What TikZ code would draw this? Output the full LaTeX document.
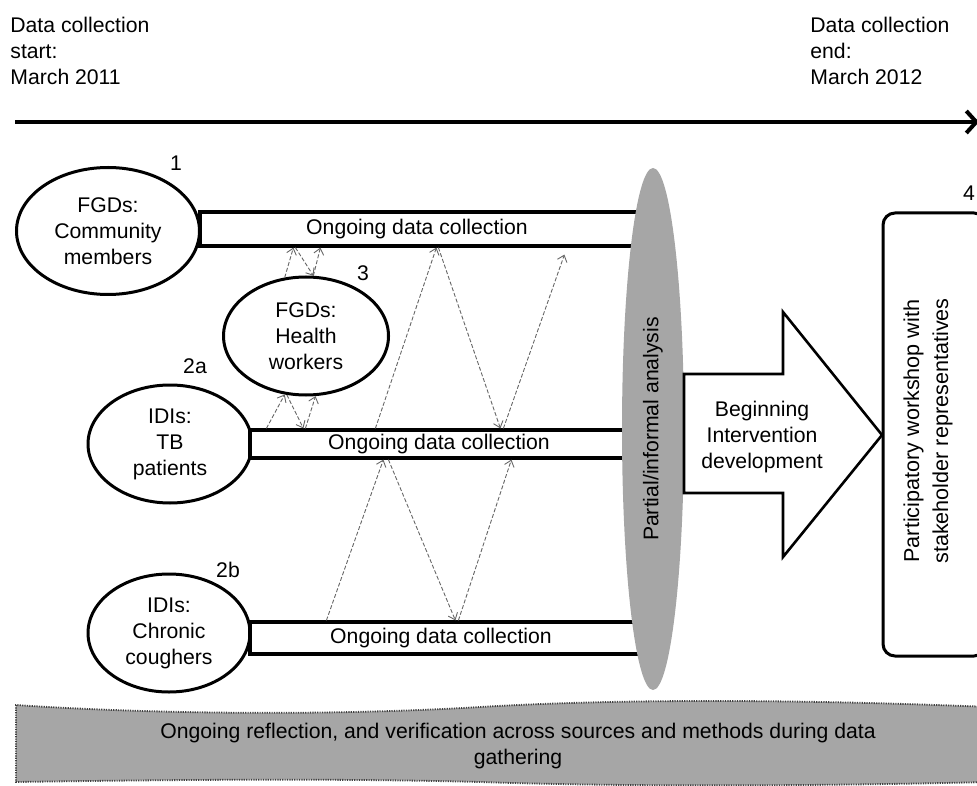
\documentclass[tikz,border=0pt]{standalone}
\usepackage{fontspec}
\setmainfont{Liberation Sans}
\usetikzlibrary{arrows.meta,calc,positioning,shapes.geometric}
\definecolor{grisana}{rgb}{0.65,0.65,0.65}
\definecolor{grisflecha}{rgb}{0.40,0.40,0.40}
\tikzset{
  grupo/.style={
    ellipse,
    draw=black,
    line width=1.5pt,
    fill=white,
    align=center,
    inner sep=0pt,
    font=\fontsize{10.6}{13}\selectfont
  },
  barra/.style={
    rectangle,
    draw=black,
    line width=1.6pt,
    fill=white,
    inner sep=0pt
  },
  rotulo/.style={
    inner sep=0pt,
    font=\fontsize{10.6}{13}\selectfont
  },
  enlace/.style={
    -{Straight Barb[length=3pt,width=5pt]},
    dash pattern=on 2pt off 1pt,
    line width=0.45pt,
    grisflecha
  }
}

\begin{document}
\begin{tikzpicture}[x=0.5pt,y=-0.5pt]
\useasboundingbox (0,0) rectangle (977,785);
% time line
\node[rotulo, anchor=north west, align=left] (inicio) at (10,17) {Data collection\\start:\\March 2011};
\node[rotulo, anchor=north west, align=left] (fin) at (810,17) {Data collection\\end:\\March 2012};
\coordinate (t0) at (15,122);
\coordinate (t1) at (979,122);
\draw[line width=2pt, -{Straight Barb[length=5pt,width=11pt]}] (t0) -- (t1);
% groups
\node[grupo, minimum width=91.5pt, minimum height=63.5pt] (e1) at (108,231) {FGDs:\\Community\\members};
\node[grupo, minimum width=82.5pt, minimum height=59pt] (e3) at (306,336) {FGDs:\\Health\\workers};
\node[grupo, minimum width=82pt, minimum height=59pt] (e2a) at (170,444) {IDIs:\\TB\\patients};
\node[grupo, minimum width=81pt, minimum height=59pt] (e2b) at (169,633) {IDIs:\\Chronic\\coughers};
\node[rotulo] (n1) at (176,163) {1};
\node[rotulo] (n3) at (363,273) {3};
\node[rotulo] (n2a) at (195,366) {2a};
\node[rotulo] (n2b) at (228,570) {2b};
\node[rotulo] (n4) at (969,193) {4};
% bars
\node[barra, minimum width=225pt, minimum height=17pt] (bar1) at (425,229) {};
\node[barra, minimum width=200pt, minimum height=14pt] (bar2) at (450,444) {};
\node[barra, minimum width=200pt, minimum height=16pt] (bar3) at (450,638) {};
\node[rotulo] (txt1) at (417,229) {Ongoing data collection};
\node[rotulo] (txt2) at (439,444) {Ongoing data collection};
\node[rotulo] (txt3) at (441,638) {Ongoing data collection};
% analysis
\node[ellipse, fill=grisana, rotate=90, minimum width=261pt, minimum height=31pt, inner sep=0pt,
  font=\fontsize{10.6}{13}\selectfont] (analisis) at (653,429) {Partial/informal analysis};
\draw[line width=1.3pt, fill=white] (684,374) -- (783,374) -- (783,312) -- (882,435)
  -- (783,557) -- (783,493) -- (684,493) -- cycle;
\node[rotulo, align=center] (intervencion) at (762,437) {Beginning\\Intervention\\development};
\node[draw, line width=1.5pt, rounded corners=6pt, minimum width=51.5pt, minimum height=221.5pt,
  inner sep=0pt] (taller) at (934.5,434.5) {};
\node[rotulo, rotate=90, align=center, font=\fontsize{10.8}{14.5}\selectfont] (tallertxt) at (928,431)
  {Participatory workshop with\\stakeholder representatives};
% links
\draw[enlace] (e3.110) -- ($(bar1.south west)+(95,0)$);
\draw[enlace] ($(bar1.south west)+(97,0)$) -- (e3.83);
\draw[enlace] (e3.83) -- ($(bar1.south west)+(122,0)$);
\draw[enlace] ($(bar2.north west)+(18,0)$) -- (e3.250);
\draw[enlace] (e3.252) -- ($(bar2.north west)+(55,0)$);
\draw[enlace] ($(bar2.north west)+(57,0)$) -- (e3.279);
\draw[enlace] ($(bar2.north west)+(127,0)$) -- ($(bar1.south west)+(238,0)$);
\draw[enlace] ($(bar1.south west)+(240,0)$) -- ($(bar2.north west)+(252,0)$);
\draw[enlace] ($(bar2.north west)+(255,0)$) -- ($(bar1.south west)+(366,7)$);
\draw[enlace] ($(bar3.north west)+(78,0)$) -- ($(bar2.south west)+(135,0)$);
\draw[enlace] ($(bar2.south west)+(140,0)$) -- ($(bar3.north west)+(207,0)$);
\draw[enlace] ($(bar3.north west)+(210,0)$) -- ($(bar2.south west)+(263,0)$);
% reflection band
\fill[grisana] (16,705) .. controls (150,714) and (330,716) .. (480,707)
  .. controls (630,698) and (820,700) .. (990,707) -- (990,782)
  .. controls (820,786) and (630,787) .. (480,782)
  .. controls (330,778) and (150,780) .. (16,782) -- cycle;
\draw[black!75, line width=0.9pt, dash pattern=on 0.6pt off 0.6pt]
  (990,707) .. controls (820,700) and (630,698) .. (480,707)
  .. controls (330,716) and (150,714) .. (16,705) -- (16,782)
  .. controls (150,780) and (330,778) .. (480,782)
  .. controls (630,787) and (820,786) .. (990,782);
\node[rotulo, align=center] (reflexion) at (518,746) {Ongoing reflection, and verification across sources and methods during data\\gathering};
\end{tikzpicture}
\end{document}
